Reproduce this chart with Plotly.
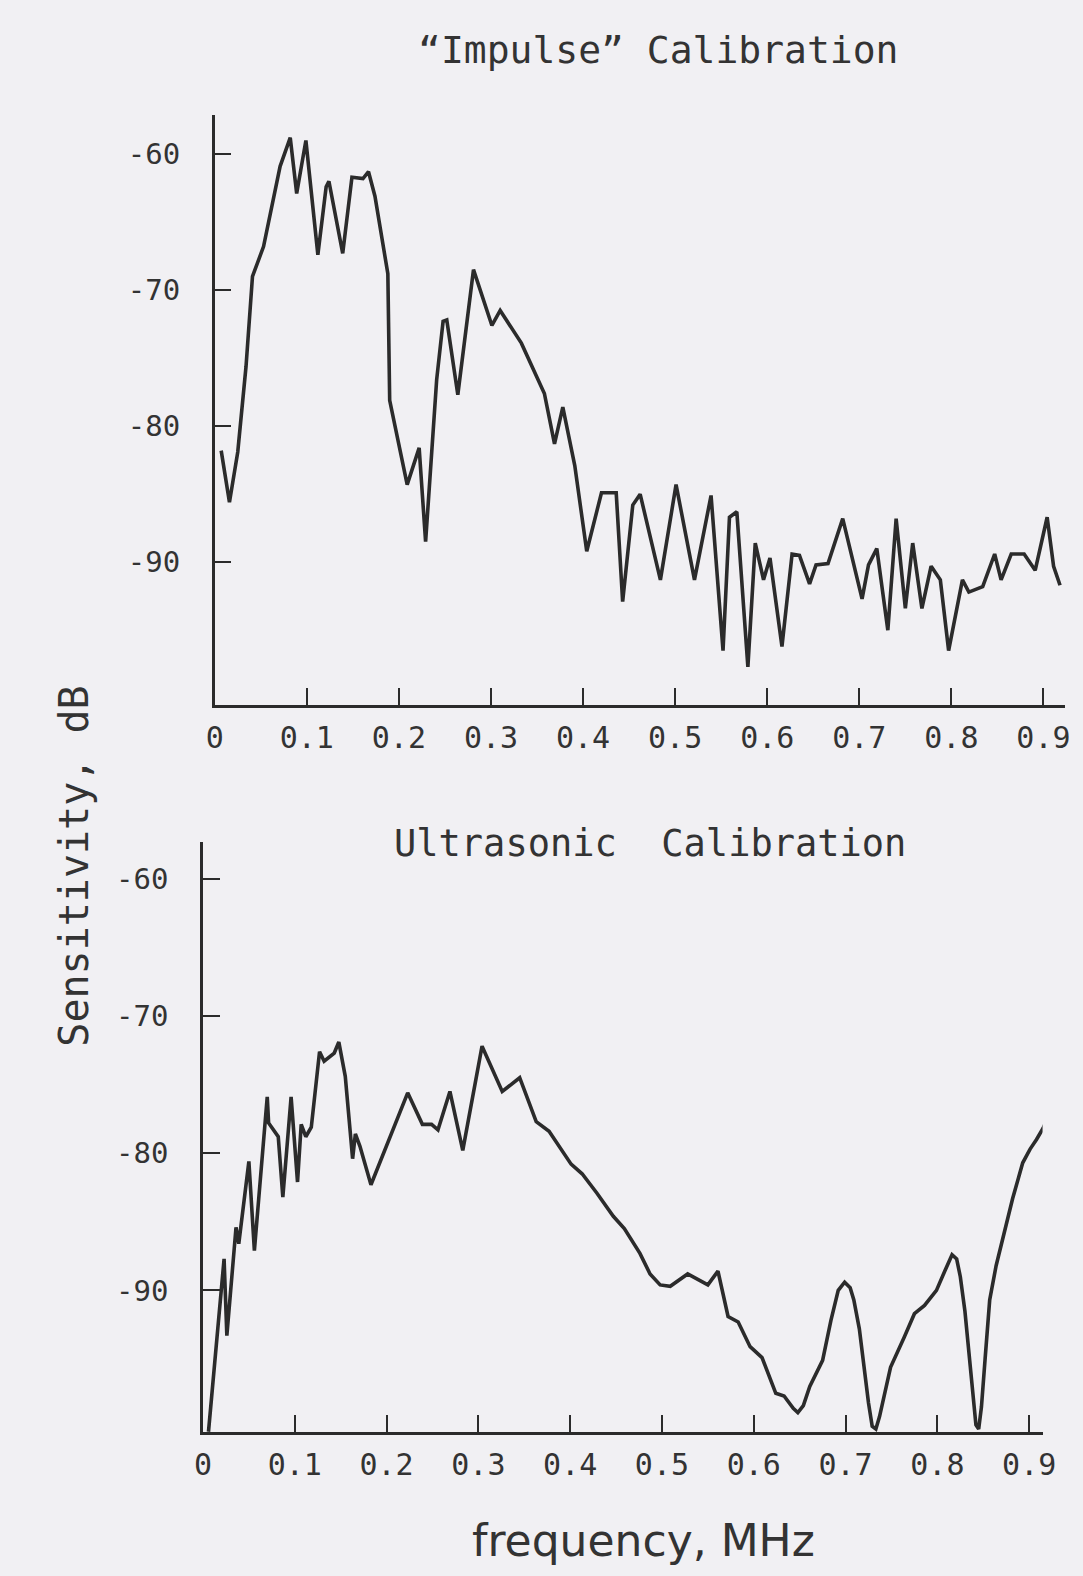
import plotly.graph_objects as go

# ---------------- data ----------------
impulse_freq = [0.007, 0.016, 0.025, 0.034, 0.041, 0.053, 0.071, 0.082, 0.089, 0.094,
                0.099, 0.112, 0.121, 0.124, 0.139, 0.149, 0.161, 0.167, 0.174, 0.188,
                0.190, 0.209, 0.222, 0.229, 0.241, 0.248, 0.252, 0.264, 0.281, 0.301,
                0.310, 0.333, 0.358, 0.369, 0.378, 0.391, 0.404, 0.420, 0.436, 0.443,
                0.454, 0.462, 0.484, 0.501, 0.521, 0.539, 0.552, 0.559, 0.567, 0.579,
                0.587, 0.596, 0.603, 0.616, 0.627, 0.635, 0.646, 0.653, 0.666, 0.682,
                0.703, 0.710, 0.719, 0.731, 0.740, 0.750, 0.758, 0.768, 0.778, 0.788,
                0.797, 0.812, 0.819, 0.834, 0.847, 0.854, 0.865, 0.879, 0.891, 0.904,
                0.911, 0.918]
impulse_db = [-81.8, -85.6, -81.9, -75.6, -69.0, -66.8, -60.9, -58.8, -62.9, -60.9,
              -59.0, -67.4, -62.4, -62.0, -67.3, -61.7, -61.8, -61.3, -63.1, -68.8,
              -78.1, -84.3, -81.6, -88.5, -76.6, -72.3, -72.2, -77.7, -68.5, -72.6,
              -71.5, -73.9, -77.6, -81.3, -78.6, -82.9, -89.2, -84.9, -84.9, -92.9,
              -85.8, -85.0, -91.3, -84.3, -91.3, -85.1, -96.5, -86.7, -86.3, -97.7,
              -88.6, -91.3, -89.7, -96.2, -89.4, -89.5, -91.6, -90.2, -90.1, -86.8,
              -92.7, -90.2, -89.0, -95.0, -86.8, -93.4, -88.6, -93.4, -90.3, -91.3,
              -96.5, -91.3, -92.2, -91.8, -89.4, -91.3, -89.4, -89.4, -90.6, -86.7,
              -90.3, -91.7]

ultra_freq = [0.006, 0.020, 0.023, 0.026, 0.031, 0.036, 0.039, 0.041, 0.050, 0.056,
              0.070, 0.0715, 0.082, 0.087, 0.096, 0.103, 0.107, 0.112, 0.118, 0.127,
              0.132, 0.143, 0.148, 0.155, 0.163, 0.166, 0.171, 0.183, 0.198, 0.223,
              0.239, 0.249, 0.256, 0.269, 0.283, 0.304, 0.326, 0.345, 0.363, 0.377,
              0.401, 0.413, 0.429, 0.447, 0.459, 0.476, 0.487, 0.498, 0.509, 0.528,
              0.550, 0.561, 0.572, 0.583, 0.596, 0.609, 0.624, 0.633, 0.643, 0.648,
              0.654, 0.661, 0.675, 0.684, 0.692, 0.699, 0.705, 0.709, 0.715, 0.720,
              0.725, 0.729, 0.733, 0.737, 0.742, 0.749, 0.764, 0.775, 0.786, 0.799,
              0.808, 0.816, 0.821, 0.825, 0.830, 0.834, 0.838, 0.842, 0.845, 0.848,
              0.852, 0.857, 0.864, 0.871, 0.882, 0.893, 0.901, 0.908, 0.915, 0.921]
ultra_db = [-100.3, -90.2, -87.7, -93.3, -89.0, -85.4, -86.6, -85.4, -80.6, -87.1,
            -75.9, -77.8, -78.8, -83.2, -75.9, -82.1, -77.9, -78.8, -78.1, -72.6,
            -73.3, -72.7, -71.9, -74.4, -80.4, -78.6, -79.5, -82.3, -79.8, -75.6,
            -77.9, -77.9, -78.3, -75.5, -79.8, -72.2, -75.5, -74.5, -77.7, -78.4,
            -80.8, -81.5, -82.9, -84.6, -85.5, -87.3, -88.8, -89.6, -89.7, -88.8,
            -89.6, -88.6, -91.9, -92.3, -94.1, -94.9, -97.5, -97.7, -98.6, -98.9,
            -98.4, -97.0, -95.1, -92.2, -90.0, -89.4, -89.8, -90.7, -92.8, -95.6,
            -98.2, -99.9, -100.1, -99.2, -97.6, -95.6, -93.4, -91.7, -91.1, -90.0,
            -88.6, -87.4, -87.7, -89.0, -91.5, -94.4, -97.5, -99.8, -100.1, -98.5,
            -95.0, -90.7, -88.2, -86.3, -83.3, -80.7, -79.7, -79.0, -78.2, -77.3]

x_tick_vals = [0, 0.1, 0.2, 0.3, 0.4, 0.5, 0.6, 0.7, 0.8, 0.9]
x_tick_text = ["0", "0.1", "0.2", "0.3", "0.4", "0.5", "0.6", "0.7", "0.8", "0.9"]
y_tick_vals = [-60, -70, -80, -90]
y_tick_text = ["-60", "-70", "-80", "-90"]

title_top = "\u201cImpulse\u201d Calibration"
title_bottom = "Ultrasonic\u00a0 Calibration"
y_title = "Sensitivity, dB"
x_title = "frequency, MHz"

# ---------------- figure ----------------
W, H = 1083, 1576
BG = "#f1f0f3"
INK = "#2b2b2b"
TXT = "#333333"
MONO = "DejaVu Sans Mono"
SANS = "DejaVu Sans"

fig = go.Figure()
fig.add_trace(go.Scatter(x=impulse_freq, y=impulse_db, mode="lines",
                         line=dict(color=INK, width=3.6), xaxis="x", yaxis="y",
                         showlegend=False, hoverinfo="skip"))
fig.add_trace(go.Scatter(x=ultra_freq, y=ultra_db, mode="lines",
                         line=dict(color=INK, width=3.6), xaxis="x2", yaxis="y2",
                         showlegend=False, hoverinfo="skip"))


def px_x(p):
    return p / W


def px_y(p):
    return 1 - p / H


common_x = dict(showline=True, linecolor=INK, linewidth=2.5, ticks="inside",
                ticklen=17, tickwidth=2, tickcolor=INK, showgrid=False,
                zeroline=False, tickvals=x_tick_vals, ticktext=x_tick_text,
                tickfont=dict(family=MONO, size=30, color=TXT),
                ticklabelstandoff=4)
common_y = dict(showline=True, linecolor=INK, linewidth=2.5, ticks="inside",
                ticklen=17, tickwidth=2, tickcolor=INK, showgrid=False,
                zeroline=False, tickvals=y_tick_vals, ticktext=y_tick_text,
                tickfont=dict(family=MONO, size=29, color=TXT),
                ticklabelstandoff=26)

fig.update_layout(
    width=W, height=H,
    margin=dict(l=0, r=0, t=0, b=0),
    paper_bgcolor=BG, plot_bgcolor=BG,
    xaxis=dict(domain=[px_x(210), px_x(1078)], range=[0, 0.9235],
               anchor="y", **common_x),
    yaxis=dict(domain=[px_y(705), px_y(115)], range=[-100.5, -57.13],
               anchor="x", **common_y),
    xaxis2=dict(domain=[px_x(198), px_x(1055)], range=[0, 0.9146],
                anchor="y2", **common_x),
    yaxis2=dict(domain=[px_y(1432), px_y(842)], range=[-100.32, -57.32],
                anchor="x2", **common_y),
    annotations=[
        dict(text=title_top, x=px_x(662), y=px_y(50), xref="paper", yref="paper",
             showarrow=False, xanchor="center", yanchor="middle",
             font=dict(family=MONO, size=38, color=TXT)),
        dict(text=title_bottom, x=px_x(654), y=px_y(843), xref="paper", yref="paper",
             showarrow=False, xanchor="center", yanchor="middle",
             font=dict(family=MONO, size=37, color=TXT)),
        dict(text=y_title, x=px_x(66), y=px_y(866), xref="paper", yref="paper",
             showarrow=False, xanchor="center", yanchor="middle", textangle=-90,
             font=dict(family=MONO, size=40, color=TXT)),
        dict(text=x_title, x=px_x(648), y=px_y(1540), xref="paper", yref="paper",
             showarrow=False, xanchor="center", yanchor="middle",
             font=dict(family=SANS, size=44, color=TXT)),
    ],
)

fig.write_html("out.html")
